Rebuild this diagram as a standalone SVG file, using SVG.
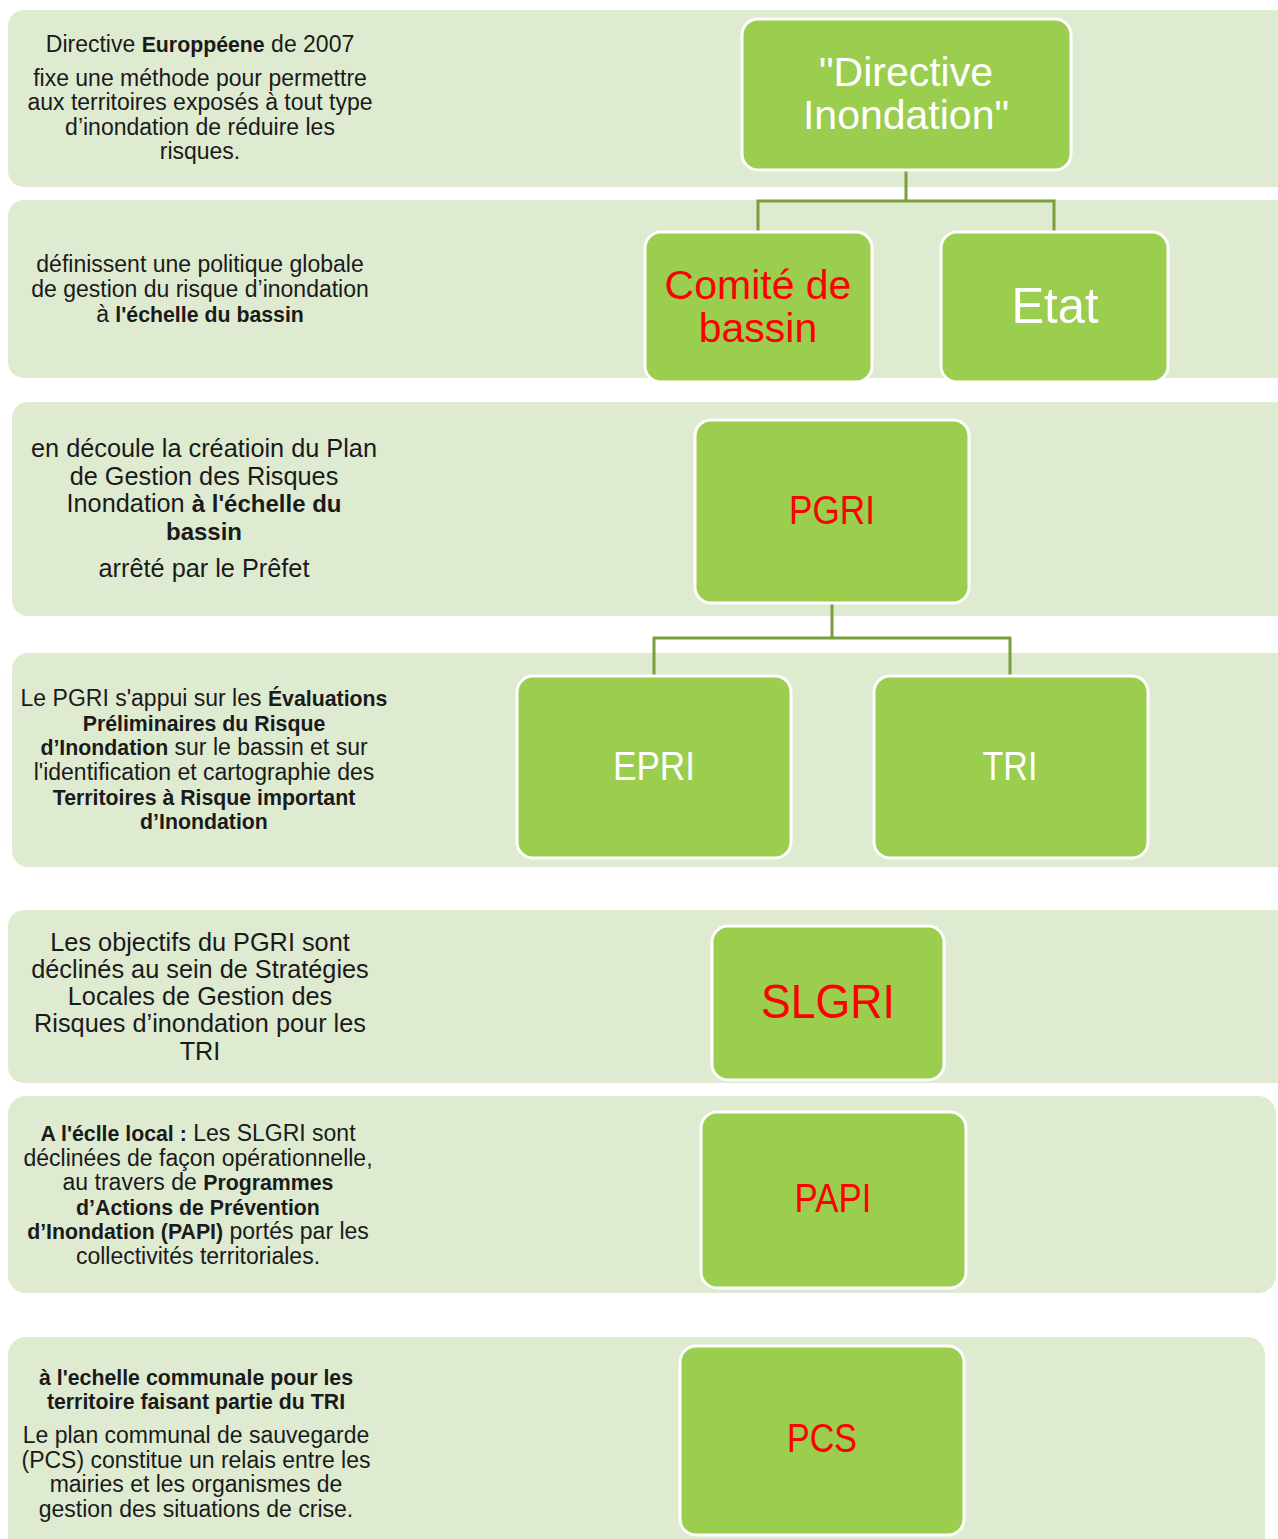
<svg xmlns="http://www.w3.org/2000/svg" width="1278" height="1539" viewBox="0 0 1278 1539">
<style>
.band{fill:#DEEBD1}
.node rect{fill:#9BCD4E;stroke:#FFFFFF;stroke-width:3}
.conn{fill:none;stroke:#77A03C;stroke-width:3}
text{font-family:"Liberation Sans",Arial,sans-serif}
.d{font-size:23px;fill:#1a1a1a;text-anchor:middle}
.d .b,.d.b{font-size:21.3px}
.d2{font-size:25.3px;fill:#1a1a1a;text-anchor:middle}
.d2 .b,.d2.b{font-size:24px}
.b{font-weight:bold}
.w{fill:#FFFFFF;text-anchor:middle;font-size:41px}
.r{fill:#FF0000;text-anchor:middle;font-size:41px}
</style>
<rect width="1278" height="1539" fill="#FFFFFF"/>
<g id="bands">
<rect class="band" x="8" y="10" width="1290" height="177" rx="16"/>
<rect class="band" x="8" y="200" width="1290" height="178" rx="16"/>
<rect class="band" x="12" y="402" width="1286" height="214" rx="16"/>
<rect class="band" x="12" y="653" width="1286" height="214" rx="16"/>
<rect class="band" x="8" y="910" width="1290" height="173" rx="16"/>
<rect class="band" x="8" y="1096" width="1268" height="197" rx="18"/>
<rect class="band" x="8" y="1337" width="1257" height="230" rx="18"/>
</g>
<g id="descriptions">
<text class="d" x="200" y="52">Directive <tspan class="b">Europpéene</tspan> de 2007</text>
<text class="d" x="200" y="86">fixe une méthode pour permettre</text>
<text class="d" x="200" y="110">aux territoires exposés à tout type</text>
<text class="d" x="200" y="135">d’inondation de réduire les</text>
<text class="d" x="200" y="159">risques.</text>

<text class="d" x="200" y="272">définissent une politique globale</text>
<text class="d" x="200" y="297">de gestion du risque d’inondation</text>
<text class="d" x="200" y="322">à <tspan class="b">l'échelle du bassin</tspan></text>

<text class="d2" x="204" y="457">en découle la créatioin du Plan</text>
<text class="d2" x="204" y="485">de Gestion des Risques</text>
<text class="d2" x="204" y="512">Inondation <tspan class="b">à l'échelle du</tspan></text>
<text class="d2 b" x="204" y="540">bassin</text>
<text class="d2" x="204" y="577">arrêté par le Prêfet</text>

<text class="d" x="204" y="706">Le PGRI s'appui sur les <tspan class="b">Évaluations</tspan></text>
<text class="d b" x="204" y="731">Préliminaires du Risque</text>
<text class="d" x="204" y="755"><tspan class="b">d’Inondation</tspan> sur le bassin et sur</text>
<text class="d" x="204" y="780">l'identification et cartographie des</text>
<text class="d b" x="204" y="805">Territoires à Risque important</text>
<text class="d b" x="204" y="829">d’Inondation</text>

<text class="d2" x="200" y="951">Les objectifs du PGRI sont</text>
<text class="d2" x="200" y="978">déclinés au sein de Stratégies</text>
<text class="d2" x="200" y="1005">Locales de Gestion des</text>
<text class="d2" x="200" y="1032">Risques d’inondation pour les</text>
<text class="d2" x="200" y="1060">TRI</text>

<text class="d" x="198" y="1141"><tspan class="b">A l'éclle local :</tspan> Les SLGRI sont</text>
<text class="d" x="198" y="1166">déclinées de façon opérationnelle,</text>
<text class="d" x="198" y="1190">au travers de <tspan class="b">Programmes</tspan></text>
<text class="d b" x="198" y="1215">d’Actions de Prévention</text>
<text class="d" x="198" y="1239"><tspan class="b">d’Inondation (PAPI)</tspan> portés par les</text>
<text class="d" x="198" y="1264">collectivités territoriales.</text>

<text class="d b" x="196" y="1385">à l'echelle communale pour les</text>
<text class="d b" x="196" y="1409">territoire faisant partie du TRI</text>
<text class="d" x="196" y="1443">Le plan communal de sauvegarde</text>
<text class="d" x="196" y="1468">(PCS) constitue un relais entre les</text>
<text class="d" x="196" y="1492">mairies et les organismes de</text>
<text class="d" x="196" y="1517">gestion des situations de crise.</text>
</g>
<g id="connectors">
<path class="conn" d="M906,170 V201 M758,232 V201 H1054 V232"/>
<path class="conn" d="M832,603 V638 M654,676 V638 H1010 V676"/>
</g>
<g id="directive" class="node">
<rect x="742" y="19" width="329" height="151" rx="16"/>
<text class="w" x="906" y="86">"Directive</text>
<text class="w" x="906" y="129">Inondation"</text>
</g>
<g id="comite" class="node">
<rect x="645" y="232" width="227" height="150" rx="16"/>
<text class="r" x="758" y="299">Comité de</text>
<text class="r" x="758" y="342">bassin</text>
</g>
<g id="etat" class="node">
<rect x="941" y="232" width="227" height="150" rx="16"/>
<text class="w" x="1055" y="323" style="font-size:50px" textLength="87" lengthAdjust="spacingAndGlyphs">Etat</text>
</g>
<g id="pgri" class="node">
<rect x="695" y="420" width="274" height="183" rx="16"/>
<text class="r" x="832" y="524" textLength="86" lengthAdjust="spacingAndGlyphs">PGRI</text>
</g>
<g id="epri" class="node">
<rect x="517" y="676" width="274" height="182" rx="16"/>
<text class="w" x="654" y="780" textLength="82" lengthAdjust="spacingAndGlyphs">EPRI</text>
</g>
<g id="tri" class="node">
<rect x="874" y="676" width="274" height="182" rx="16"/>
<text class="w" x="1010" y="780" textLength="55" lengthAdjust="spacingAndGlyphs">TRI</text>
</g>
<g id="slgri" class="node">
<rect x="712" y="926" width="232" height="154" rx="16"/>
<text class="r" x="828" y="1018" style="font-size:48px" textLength="134" lengthAdjust="spacingAndGlyphs">SLGRI</text>
</g>
<g id="papi" class="node">
<rect x="701" y="1112" width="265" height="176" rx="16"/>
<text class="r" x="833" y="1212" textLength="77" lengthAdjust="spacingAndGlyphs">PAPI</text>
</g>
<g id="pcs" class="node">
<rect x="680" y="1346" width="284" height="189" rx="16"/>
<text class="r" x="822" y="1452" textLength="70" lengthAdjust="spacingAndGlyphs">PCS</text>
</g>
</svg>
